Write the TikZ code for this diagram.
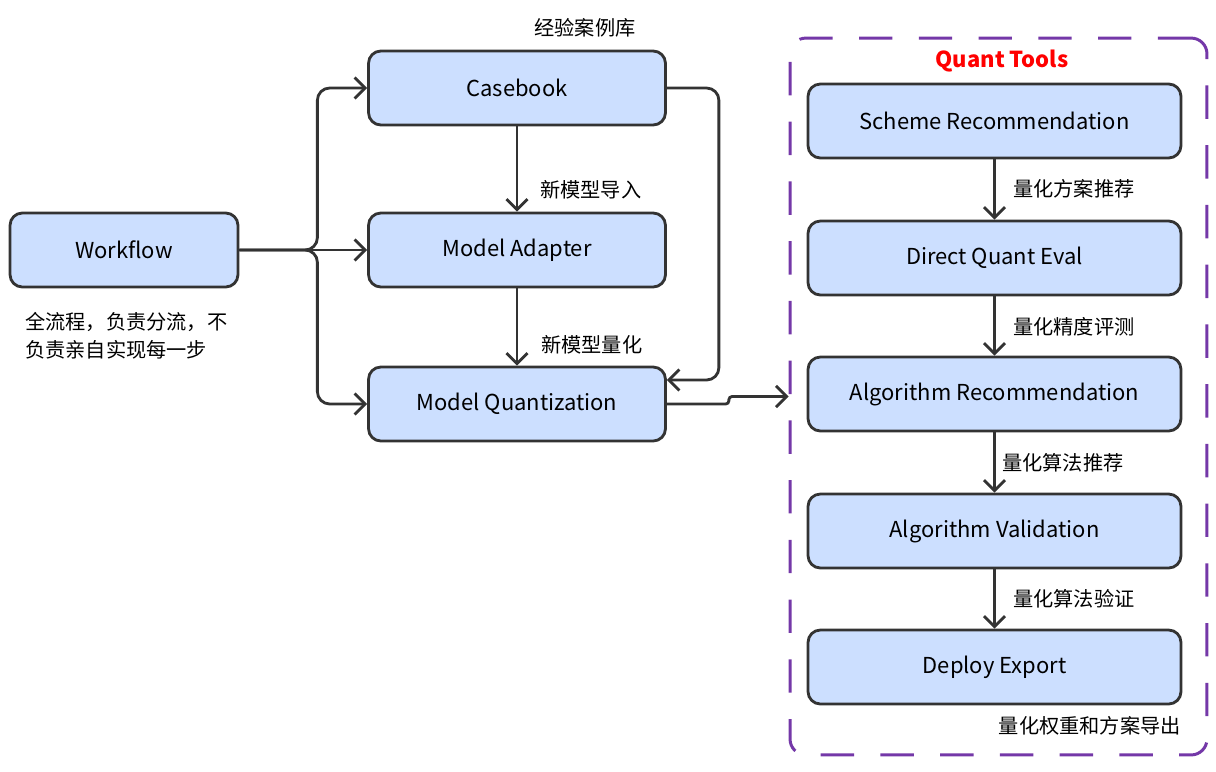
\documentclass[tikz,border=0pt]{standalone}
\usepackage{fontspec}
\setmainfont{Noto Sans CJK SC}
\usetikzlibrary{arrows.meta,calc}
\definecolor{boxfill}{HTML}{CCDFFF}
\definecolor{boxline}{HTML}{333333}
\definecolor{groupline}{HTML}{7438A8}
\tikzset{
  box/.style={draw=boxline,fill=boxfill,line width=1.6pt,rounded corners=7pt,
    minimum width=5.94cm,minimum height=1.48cm,inner sep=0pt,font=\fontsize{12.5}{14}\selectfont},
  tool/.style={box,minimum width=7.46cm},
  note/.style={inner sep=0pt,font=\fontsize{11.5}{16}\selectfont,text=black},
  arrow/.style={-{Straight Barb[length=6pt,width=12pt]},draw=boxline,line width=1.6pt,rounded corners=7pt}
}
\begin{document}
\begin{tikzpicture}[x=0.02cm,y=-0.02cm]

  \useasboundingbox (0,0) rectangle (1216,771);

  % group frame
  \node[draw=groupline,line width=1.7pt,dash pattern=on 19pt off 15pt,rounded corners=9pt,
    minimum width=8.34cm,minimum height=14.34cm,inner sep=0pt] (qt) at (998.5,396.5) {};
  \node[note,font=\fontsize{12.5}{14}\selectfont\bfseries,text=red] (qtt) at (1002,61) {Quant Tools};

  % left part
  \node[box,minimum width=4.56cm] (wf) at (124,250) {Workflow};
  \node[box] (cb) at (517,88)  {Casebook};
  \node[box] (ma) at (517,250) {Model Adapter};
  \node[box] (mq) at (517,404) {Model Quantization};

  % tools
  \node[tool] (sr) at (994.5,121) {Scheme Recommendation};
  \node[tool] (dq) at (994.5,258) {Direct Quant Eval};
  \node[tool] (ar) at (994.5,394) {Algorithm Recommendation};
  \node[tool] (av) at (994.5,531) {Algorithm Validation};
  \node[tool] (de) at (994.5,667) {Deploy Export};

  % labels
  \node[note] (cbl) at (585,28) {经验案例库};
  \node[note,anchor=west] (mal) at (540,190) {新模型导入};
  \node[note,anchor=west] (mql) at (541,345) {新模型量化};
  \node[note,anchor=north west,align=left] (wfl) at (25,312) {全流程，负责分流，不\\负责亲自实现每一步};
  \node[note,anchor=west] (srl) at (1013,189) {量化方案推荐};
  \node[note,anchor=west] (dql) at (1013,327) {量化精度评测};
  \node[note,anchor=west] (arl) at (1002,463) {量化算法推荐};
  \node[note,anchor=west] (avl) at (1013,599) {量化算法验证};
  \node[note,anchor=east] (del) at (1181,726) {量化权重和方案导出};

  \draw[arrow] (wf.east) -- ++(78,0) |- (cb.west);
  \draw[arrow] (wf.east) -- (ma.west);
  \draw[arrow] (wf.east) -- ++(78,0) |- (mq.west);
  \draw[arrow] (cb) -- (ma);
  \draw[arrow] (ma) -- (mq);
  \draw[arrow] (cb.east) -- ++(52,0) |- ([yshift=0.48cm]mq.east);
  \draw[arrow,rounded corners=1.8pt] (mq.east) -- ++(62,0) |- (qt.west);

  \draw[arrow] (sr) -- (dq);
  \draw[arrow] (dq) -- (ar);
  \draw[arrow] (ar) -- (av);
  \draw[arrow] (av) -- (de);

\end{tikzpicture}
\end{document}
